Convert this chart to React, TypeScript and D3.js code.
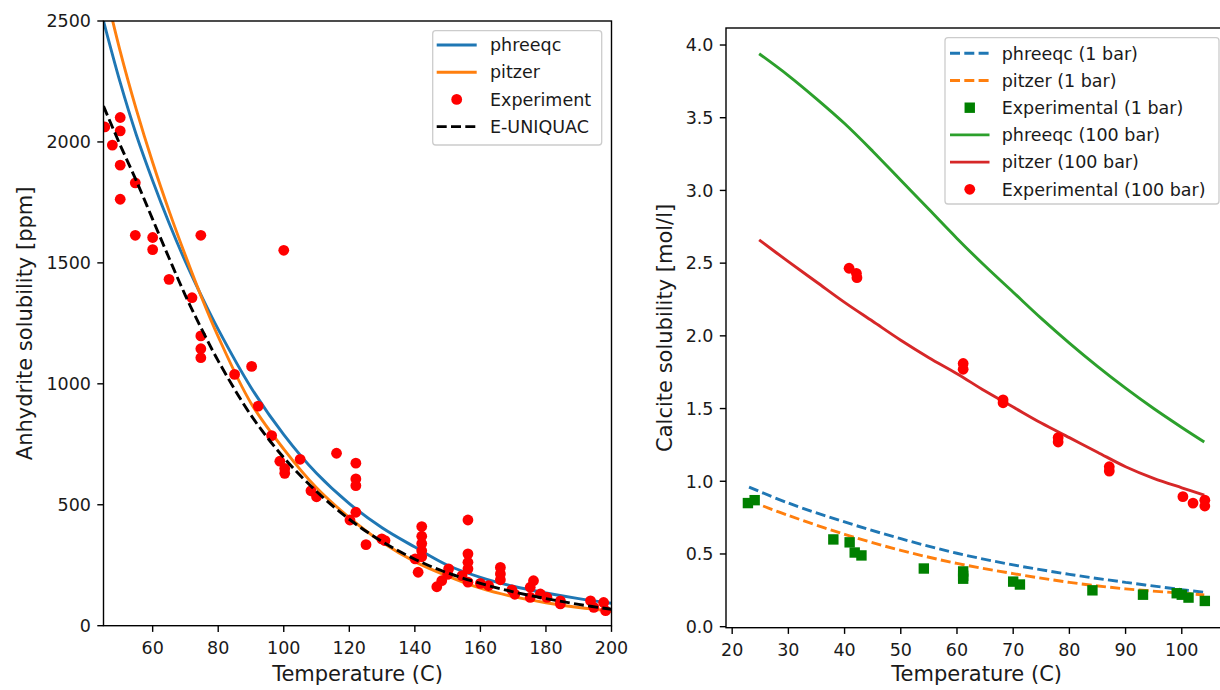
import React from 'react';
import * as d3 from 'd3';

// ---------- Left panel: Anhydrite solubility ----------
const anhCurveT = [45, 50, 55, 60, 65, 70, 75, 80, 90, 100, 110, 120, 130, 140, 150, 160, 170, 180, 190, 200];
const anhPhreeqc = [2500, 2250, 2030, 1840, 1665, 1505, 1360, 1225, 985, 790, 630, 505, 405, 325, 250, 200, 163, 135, 112, 93];
const anhPitzer = [2660, 2380, 2135, 1915, 1715, 1530, 1355, 1195, 920, 730, 570, 447, 345, 265, 205, 155, 120, 95, 75, 60];
const anhEuniquac = [2148, 1990, 1840, 1680, 1520, 1365, 1225, 1095, 870, 695, 555, 440, 348, 275, 218, 175, 140, 112, 88, 68];

const anhExpT = [45.4, 47.7, 50.1, 50.1, 50.1, 50.1, 54.7, 54.7, 60.0, 60.0, 65.0, 72.0, 74.7, 74.7, 74.7, 74.7,
  85.0, 90.2, 92.2, 96.3, 98.8, 100.0, 100.3, 100.3, 105.0, 108.3, 110.0, 116.1, 122.0, 122.0, 122.0, 122.0,
  120.2, 125.1, 129.9, 130.9, 142.1, 142.1, 142.1, 142.1, 142.1, 140.1, 141.0, 146.7, 148.2, 150.3, 150.0,
  156.2, 156.2, 156.2, 156.2, 154.4, 156.2, 160.0, 162.5, 166.1, 166.1, 166.1, 169.6, 170.5, 176.2, 175.2,
  175.2, 178.3, 180.3, 184.4, 184.4, 193.6, 194.6, 197.6, 198.2];
const anhExpV = [2062, 1987, 2101, 2046, 1904, 1763, 1831, 1614, 1605, 1555, 1432, 1356, 1614, 1198, 1145, 1108,
  1039, 1072, 908, 786, 680, 1552, 650, 630, 688, 558, 533, 713, 672, 607, 579, 469,
  437, 335, 359, 352, 410, 370, 340, 310, 285, 276, 221, 161, 186, 235, 212,
  437, 297, 262, 235, 207, 180, 175, 166, 241, 214, 190, 148, 130, 186, 159,
  117, 131, 117, 103, 90, 103, 76, 96, 62];

const anhXTicks = [60, 80, 100, 120, 140, 160, 180, 200];
const anhYTicks = [0, 500, 1000, 1500, 2000, 2500];

// ---------- Right panel: Calcite solubility ----------
const calPhreeqc1T = [23, 30, 40, 50, 60, 70, 80, 90, 100, 104];
const calPhreeqc1V = [0.96, 0.85, 0.72, 0.605, 0.505, 0.425, 0.36, 0.305, 0.255, 0.237];
const calPitzer1T = [25.5, 30, 40, 50, 60, 70, 80, 90, 100, 104];
const calPitzer1V = [0.83, 0.765, 0.635, 0.525, 0.435, 0.365, 0.305, 0.26, 0.23, 0.218];
const calCurveT = [24.8, 30, 35, 40, 45, 50, 55, 60, 65, 70, 75, 80, 85, 90, 95, 100, 104];
const calPhreeqc100 = [3.94, 3.79, 3.63, 3.46, 3.27, 3.07, 2.87, 2.67, 2.48, 2.30, 2.12, 1.95, 1.79, 1.64, 1.50, 1.37, 1.27];
const calPitzer100 = [2.66, 2.51, 2.37, 2.23, 2.10, 1.97, 1.85, 1.74, 1.62, 1.51, 1.40, 1.30, 1.20, 1.10, 1.02, 0.955, 0.905];

const calExp1T = [22.8, 24.0, 38.0, 40.9, 41.8, 43.0, 54.1, 61.1, 61.1, 61.1, 70.0, 71.2, 84.1, 93.1, 99.1, 100.0, 101.2, 104.1];
const calExp1V = [0.85, 0.87, 0.60, 0.58, 0.51, 0.49, 0.40, 0.38, 0.35, 0.33, 0.31, 0.29, 0.25, 0.22, 0.23, 0.22, 0.20, 0.177];
const calExp100T = [40.8, 42.1, 42.2, 61.1, 61.1, 68.2, 68.2, 78.0, 78.0, 87.1, 87.1, 100.2, 102.0, 104.1, 104.1];
const calExp100V = [2.465, 2.43, 2.40, 1.81, 1.77, 1.56, 1.54, 1.30, 1.27, 1.10, 1.07, 0.894, 0.85, 0.87, 0.83];

const calXTicks = [20, 30, 40, 50, 60, 70, 80, 90, 100];
const calYTicks = [0.0, 0.5, 1.0, 1.5, 2.0, 2.5, 3.0, 3.5, 4.0];

const C_BLUE = '#1f77b4';
const C_ORANGE = '#ff7f0e';
const C_GREEN = '#2ca02c';
const C_RED = '#d62728';
const FONT = "'DejaVu Sans', Verdana, sans-serif";
const TICK_FS = 17.5;
const LABEL_FS = 21;
const LW = 2.9;
const DASH = '10,4.3';
const TEXT = '#1a1a1a';

export default function App() {
  const L = { x0: 103.5, x1: 611.5, y0: 21, y1: 625.7 };
  const xL = d3.scaleLinear().domain([45, 200]).range([L.x0, L.x1]);
  const yL = d3.scaleLinear().domain([0, 2500]).range([L.y1, L.y0]);

  const R = { x0: 726, x1: 1227.3, y0: 28, y1: 627.7 };
  const xR = d3.scaleLinear().domain([18.9, 108.1]).range([R.x0, R.x1]);
  const yR = d3.scaleLinear().domain([-0.007, 4.117]).range([R.y1, R.y0]);

  const curve = d3.curveCatmullRom.alpha(0.5);
  const lineL = (ts: number[], vs: number[]) =>
    d3.line<number>().x((_, i) => xL(ts[i])).y((v) => yL(v)).curve(curve)(vs) || '';
  const lineR = (ts: number[], vs: number[]) =>
    d3.line<number>().x((_, i) => xR(ts[i])).y((v) => yR(v)).curve(curve)(vs) || '';

  const fmt1 = d3.format('.1f');

  const legendL = { x: 432.7, y: 30.7, w: 169, h: 114.3 };
  const legendR = { x: 945, y: 37.7, w: 274, h: 166.3 };
  const rowH = 27.2;

  return (
    <svg width={1220} height={690} style={{ position: 'absolute', left: 0, top: 0, background: '#fff' }}
      fontFamily={FONT}>
      <defs>
        <clipPath id="clipL"><rect x={L.x0} y={L.y0} width={L.x1 - L.x0} height={L.y1 - L.y0} /></clipPath>
        <clipPath id="clipR"><rect x={R.x0} y={R.y0} width={R.x1 - R.x0} height={R.y1 - R.y0} /></clipPath>
      </defs>
      <rect x={0} y={0} width={1220} height={690} fill="#fff" />

      {/* ---------- Left panel ---------- */}
      <g clipPath="url(#clipL)">
        <path d={lineL(anhCurveT, anhPhreeqc)} fill="none" stroke={C_BLUE} strokeWidth={LW} />
        <path d={lineL(anhCurveT, anhPitzer)} fill="none" stroke={C_ORANGE} strokeWidth={LW} />
        {anhExpT.map((t, i) => (
          <circle key={i} cx={xL(t)} cy={yL(anhExpV[i])} r={5.4} fill="#ff0000" />
        ))}
        <path d={lineL(anhCurveT, anhEuniquac)} fill="none" stroke="#000" strokeWidth={LW} strokeDasharray={DASH} />
      </g>
      <rect x={L.x0} y={L.y0} width={L.x1 - L.x0} height={L.y1 - L.y0} fill="none" stroke="#000" strokeWidth={1.4} />
      {anhXTicks.map((t) => (
        <g key={t}>
          <line x1={xL(t)} x2={xL(t)} y1={L.y1} y2={L.y1 + 6.2} stroke="#000" strokeWidth={1.4} />
          <text x={xL(t)} y={L.y1 + 28.5} textAnchor="middle" fontSize={TICK_FS} fill={TEXT}>{t}</text>
        </g>
      ))}
      {anhYTicks.map((v) => (
        <g key={v}>
          <line x1={L.x0 - 6.2} x2={L.x0} y1={yL(v)} y2={yL(v)} stroke="#000" strokeWidth={1.4} />
          <text x={L.x0 - 12.5} y={yL(v) + 6.3} textAnchor="end" fontSize={TICK_FS} fill={TEXT}>{v}</text>
        </g>
      ))}
      <text x={(L.x0 + L.x1) / 2} y={681} textAnchor="middle" fontSize={LABEL_FS} fill={TEXT}>Temperature (C)</text>
      <text transform={`translate(32,${(L.y0 + L.y1) / 2}) rotate(-90)`} textAnchor="middle" fontSize={LABEL_FS} fill={TEXT}>
        Anhydrite solubility [ppm]
      </text>

      {/* Left legend */}
      <g>
        <rect x={legendL.x} y={legendL.y} width={legendL.w} height={legendL.h} rx={3}
          fill="#fff" fillOpacity={0.8} stroke="#cccccc" strokeWidth={1.3} />
        {[
          { label: 'phreeqc', kind: 'line', color: C_BLUE },
          { label: 'pitzer', kind: 'line', color: C_ORANGE },
          { label: 'Experiment', kind: 'dot', color: '#ff0000' },
          { label: 'E-UNIQUAC', kind: 'dash', color: '#000' },
        ].map((e, i) => {
          const cy = 45 + i * rowH;
          const hx0 = 436.7, hx1 = 476.7;
          return (
            <g key={e.label}>
              {e.kind === 'dot' ? (
                <circle cx={(hx0 + hx1) / 2} cy={cy} r={5.4} fill={e.color} />
              ) : (
                <line x1={hx0} x2={hx1} y1={cy} y2={cy} stroke={e.color} strokeWidth={LW}
                  strokeDasharray={e.kind === 'dash' ? DASH : undefined} />
              )}
              <text x={490} y={cy + 6.2} fontSize={TICK_FS} fill={TEXT}>{e.label}</text>
            </g>
          );
        })}
      </g>

      {/* ---------- Right panel ---------- */}
      <g clipPath="url(#clipR)">
        <path d={lineR(calPhreeqc1T, calPhreeqc1V)} fill="none" stroke={C_BLUE} strokeWidth={LW} strokeDasharray={DASH} />
        <path d={lineR(calPitzer1T, calPitzer1V)} fill="none" stroke={C_ORANGE} strokeWidth={LW} strokeDasharray={DASH} />
        {calExp1T.map((t, i) => (
          <rect key={i} x={xR(t) - 5.2} y={yR(calExp1V[i]) - 5.2} width={10.4} height={10.4} fill="#008000" />
        ))}
        <path d={lineR(calCurveT, calPhreeqc100)} fill="none" stroke={C_GREEN} strokeWidth={LW} />
        <path d={lineR(calCurveT, calPitzer100)} fill="none" stroke={C_RED} strokeWidth={LW} />
        {calExp100T.map((t, i) => (
          <circle key={i} cx={xR(t)} cy={yR(calExp100V[i])} r={5.4} fill="#ff0000" />
        ))}
      </g>
      <rect x={R.x0} y={R.y0} width={R.x1 - R.x0} height={R.y1 - R.y0} fill="none" stroke="#000" strokeWidth={1.4} />
      {calXTicks.map((t) => (
        <g key={t}>
          <line x1={xR(t)} x2={xR(t)} y1={R.y1} y2={R.y1 + 6.2} stroke="#000" strokeWidth={1.4} />
          <text x={xR(t)} y={R.y1 + 28.5} textAnchor="middle" fontSize={TICK_FS} fill={TEXT}>{t}</text>
        </g>
      ))}
      {calYTicks.map((v) => (
        <g key={v}>
          <line x1={R.x0 - 6.2} x2={R.x0} y1={yR(v)} y2={yR(v)} stroke="#000" strokeWidth={1.4} />
          <text x={R.x0 - 12.5} y={yR(v) + 6.3} textAnchor="end" fontSize={TICK_FS} fill={TEXT}>{fmt1(v)}</text>
        </g>
      ))}
      <text x={(R.x0 + R.x1) / 2} y={681} textAnchor="middle" fontSize={LABEL_FS} fill={TEXT}>Temperature (C)</text>
      <text transform={`translate(672,${(R.y0 + R.y1) / 2}) rotate(-90)`} textAnchor="middle" fontSize={LABEL_FS} fill={TEXT}>
        Calcite solubility [mol/l]
      </text>

      {/* Right legend */}
      <g>
        <rect x={legendR.x} y={legendR.y} width={legendR.w} height={legendR.h} rx={3}
          fill="#fff" fillOpacity={0.8} stroke="#cccccc" strokeWidth={1.3} />
        {[
          { label: 'phreeqc (1 bar)', kind: 'dash', color: C_BLUE },
          { label: 'pitzer (1 bar)', kind: 'dash', color: C_ORANGE },
          { label: 'Experimental (1 bar)', kind: 'square', color: '#008000' },
          { label: 'phreeqc (100 bar)', kind: 'line', color: C_GREEN },
          { label: 'pitzer (100 bar)', kind: 'line', color: C_RED },
          { label: 'Experimental (100 bar)', kind: 'dot', color: '#ff0000' },
        ].map((e, i) => {
          const cy = 53.3 + i * rowH;
          const hx0 = 950, hx1 = 989.5;
          const cx = (hx0 + hx1) / 2;
          return (
            <g key={e.label}>
              {e.kind === 'dot' ? (
                <circle cx={cx} cy={cy} r={5.4} fill={e.color} />
              ) : e.kind === 'square' ? (
                <rect x={cx - 5.2} y={cy - 5.2} width={10.4} height={10.4} fill={e.color} />
              ) : (
                <line x1={hx0} x2={hx1} y1={cy} y2={cy} stroke={e.color} strokeWidth={LW}
                  strokeDasharray={e.kind === 'dash' ? DASH : undefined} />
              )}
              <text x={1001.7} y={cy + 6.2} fontSize={TICK_FS} fill={TEXT}>{e.label}</text>
            </g>
          );
        })}
      </g>
    </svg>
  );
}
